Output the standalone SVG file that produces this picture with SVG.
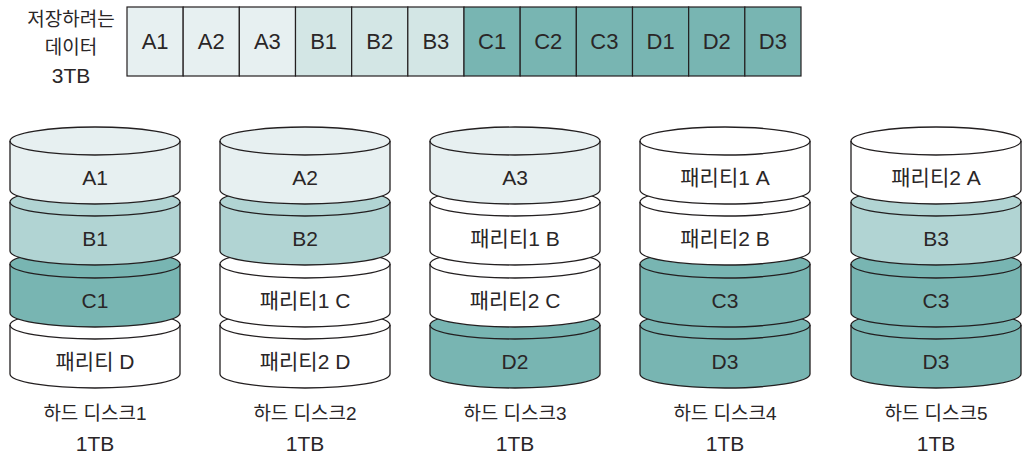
<svg xmlns="http://www.w3.org/2000/svg" width="1030" height="461" viewBox="0 0 1030 461">
<style>
.t{font-family:"Liberation Sans","Noto Sans CJK KR",sans-serif;font-size:21px;fill:#2a2627;text-anchor:middle}
.bt{font-size:22px}
.k{font-size:19px}
.cell{stroke:#231f20;stroke-width:1.2}
.seg{stroke:#231f20;stroke-width:1.3;stroke-linejoin:round}
.fr{fill:none;stroke:#231f20;stroke-width:1.3}
.a{fill:#e7f0f1}
.bb{fill:#d3e6e5}
.b{fill:#b1d4d3}
.c{fill:#78b5b2}
.w{fill:#ffffff}
</style>
<rect width="1030" height="461" fill="#ffffff"/>
<g id="data">
<text class="t k" x="71" y="26">저장하려는</text>
<text class="t k" x="71" y="54">데이터</text>
<text class="t" x="71" y="83">3TB</text>
<rect class="cell a" x="127" y="7" width="56.17" height="69"/>
<rect class="cell a" x="183.17" y="7" width="56.17" height="69"/>
<rect class="cell a" x="239.33" y="7" width="56.17" height="69"/>
<rect class="cell bb" x="295.5" y="7" width="56.17" height="69"/>
<rect class="cell bb" x="351.67" y="7" width="56.17" height="69"/>
<rect class="cell bb" x="407.83" y="7" width="56.17" height="69"/>
<rect class="cell c" x="464" y="7" width="56.17" height="69"/>
<rect class="cell c" x="520.17" y="7" width="56.17" height="69"/>
<rect class="cell c" x="576.33" y="7" width="56.17" height="69"/>
<rect class="cell c" x="632.5" y="7" width="56.17" height="69"/>
<rect class="cell c" x="688.67" y="7" width="56.17" height="69"/>
<rect class="cell c" x="744.83" y="7" width="56.17" height="69"/>
<text class="t bt" x="155.1" y="49">A1</text>
<text class="t bt" x="211.2" y="49">A2</text>
<text class="t bt" x="267.4" y="49">A3</text>
<text class="t bt" x="323.6" y="49">B1</text>
<text class="t bt" x="379.8" y="49">B2</text>
<text class="t bt" x="435.9" y="49">B3</text>
<text class="t bt" x="492.1" y="49">C1</text>
<text class="t bt" x="548.2" y="49">C2</text>
<text class="t bt" x="604.4" y="49">C3</text>
<text class="t bt" x="660.6" y="49">D1</text>
<text class="t bt" x="716.8" y="49">D2</text>
<text class="t bt" x="772.9" y="49">D3</text>
</g>
<g id="disk1">
<path class="seg w" d="M10 325 A85 14 0 0 1 180 325 L180 374 A85 14 0 0 1 10 374 Z"/><path class="fr" d="M10 325 A85 14 0 0 0 180 325"/>
<path class="seg c" d="M10 264 A85 14 0 0 1 180 264 L180 313 A85 14 0 0 1 10 313 Z"/><path class="fr" d="M10 264 A85 14 0 0 0 180 264"/>
<path class="seg b" d="M10 202 A85 14 0 0 1 180 202 L180 251 A85 14 0 0 1 10 251 Z"/><path class="fr" d="M10 202 A85 14 0 0 0 180 202"/>
<path class="seg a" d="M10 141 A85 14 0 0 1 180 141 L180 190 A85 14 0 0 1 10 190 Z"/><path class="fr" d="M10 141 A85 14 0 0 0 180 141"/>
<text class="t" x="95" y="185">A1</text>
<text class="t" x="95" y="246">B1</text>
<text class="t" x="95" y="308">C1</text>
<text class="t" x="95" y="369">패리티 D</text>
<text class="t k" x="95" y="420">하드 디스크1</text>
<text class="t" x="95" y="451">1TB</text>
</g>
<g id="disk2">
<path class="seg w" d="M220 325 A85 14 0 0 1 390 325 L390 374 A85 14 0 0 1 220 374 Z"/><path class="fr" d="M220 325 A85 14 0 0 0 390 325"/>
<path class="seg w" d="M220 264 A85 14 0 0 1 390 264 L390 313 A85 14 0 0 1 220 313 Z"/><path class="fr" d="M220 264 A85 14 0 0 0 390 264"/>
<path class="seg b" d="M220 202 A85 14 0 0 1 390 202 L390 251 A85 14 0 0 1 220 251 Z"/><path class="fr" d="M220 202 A85 14 0 0 0 390 202"/>
<path class="seg a" d="M220 141 A85 14 0 0 1 390 141 L390 190 A85 14 0 0 1 220 190 Z"/><path class="fr" d="M220 141 A85 14 0 0 0 390 141"/>
<text class="t" x="305" y="185">A2</text>
<text class="t" x="305" y="246">B2</text>
<text class="t" x="305" y="308">패리티1 C</text>
<text class="t" x="305" y="369">패리티2 D</text>
<text class="t k" x="305" y="420">하드 디스크2</text>
<text class="t" x="305" y="451">1TB</text>
</g>
<g id="disk3">
<path class="seg c" d="M430 325 A85 14 0 0 1 600 325 L600 374 A85 14 0 0 1 430 374 Z"/><path class="fr" d="M430 325 A85 14 0 0 0 600 325"/>
<path class="seg w" d="M430 264 A85 14 0 0 1 600 264 L600 313 A85 14 0 0 1 430 313 Z"/><path class="fr" d="M430 264 A85 14 0 0 0 600 264"/>
<path class="seg w" d="M430 202 A85 14 0 0 1 600 202 L600 251 A85 14 0 0 1 430 251 Z"/><path class="fr" d="M430 202 A85 14 0 0 0 600 202"/>
<path class="seg a" d="M430 141 A85 14 0 0 1 600 141 L600 190 A85 14 0 0 1 430 190 Z"/><path class="fr" d="M430 141 A85 14 0 0 0 600 141"/>
<text class="t" x="515" y="185">A3</text>
<text class="t" x="515" y="246">패리티1 B</text>
<text class="t" x="515" y="308">패리티2 C</text>
<text class="t" x="515" y="369">D2</text>
<text class="t k" x="515" y="420">하드 디스크3</text>
<text class="t" x="515" y="451">1TB</text>
</g>
<g id="disk4">
<path class="seg c" d="M640 325 A85 14 0 0 1 810 325 L810 374 A85 14 0 0 1 640 374 Z"/><path class="fr" d="M640 325 A85 14 0 0 0 810 325"/>
<path class="seg c" d="M640 264 A85 14 0 0 1 810 264 L810 313 A85 14 0 0 1 640 313 Z"/><path class="fr" d="M640 264 A85 14 0 0 0 810 264"/>
<path class="seg w" d="M640 202 A85 14 0 0 1 810 202 L810 251 A85 14 0 0 1 640 251 Z"/><path class="fr" d="M640 202 A85 14 0 0 0 810 202"/>
<path class="seg w" d="M640 141 A85 14 0 0 1 810 141 L810 190 A85 14 0 0 1 640 190 Z"/><path class="fr" d="M640 141 A85 14 0 0 0 810 141"/>
<text class="t" x="725" y="185">패리티1 A</text>
<text class="t" x="725" y="246">패리티2 B</text>
<text class="t" x="725" y="308">C3</text>
<text class="t" x="725" y="369">D3</text>
<text class="t k" x="725" y="420">하드 디스크4</text>
<text class="t" x="725" y="451">1TB</text>
</g>
<g id="disk5">
<path class="seg c" d="M851 325 A85 14 0 0 1 1021 325 L1021 374 A85 14 0 0 1 851 374 Z"/><path class="fr" d="M851 325 A85 14 0 0 0 1021 325"/>
<path class="seg c" d="M851 264 A85 14 0 0 1 1021 264 L1021 313 A85 14 0 0 1 851 313 Z"/><path class="fr" d="M851 264 A85 14 0 0 0 1021 264"/>
<path class="seg b" d="M851 202 A85 14 0 0 1 1021 202 L1021 251 A85 14 0 0 1 851 251 Z"/><path class="fr" d="M851 202 A85 14 0 0 0 1021 202"/>
<path class="seg w" d="M851 141 A85 14 0 0 1 1021 141 L1021 190 A85 14 0 0 1 851 190 Z"/><path class="fr" d="M851 141 A85 14 0 0 0 1021 141"/>
<text class="t" x="936" y="185">패리티2 A</text>
<text class="t" x="936" y="246">B3</text>
<text class="t" x="936" y="308">C3</text>
<text class="t" x="936" y="369">D3</text>
<text class="t k" x="936" y="420">하드 디스크5</text>
<text class="t" x="936" y="451">1TB</text>
</g>
<g id="connectors"/>
</svg>
